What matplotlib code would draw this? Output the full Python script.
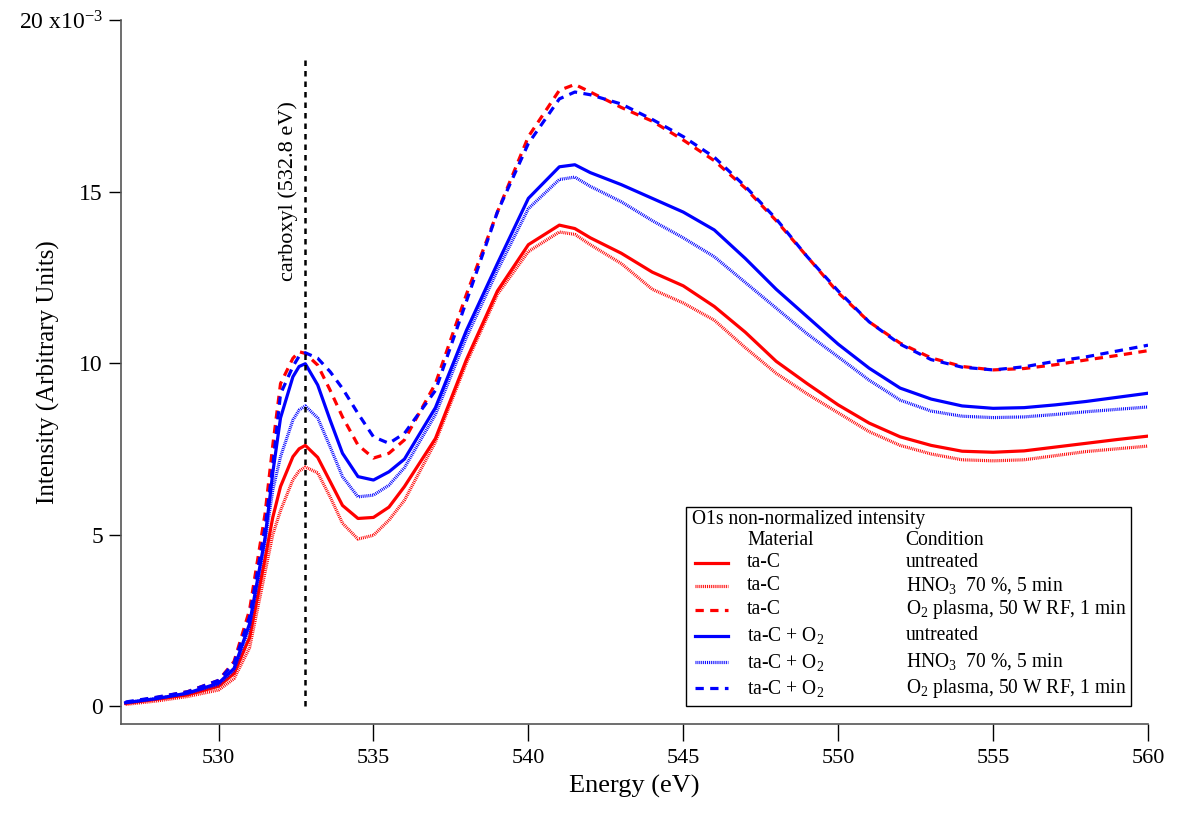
import numpy as np
import matplotlib
matplotlib.use("Agg")
import matplotlib.pyplot as plt
from matplotlib.lines import Line2D
from matplotlib.patches import Rectangle

plt.rcParams["font.family"] = ["Liberation Serif", "DejaVu Serif"]
plt.rcParams["mathtext.fontset"] = "custom"
plt.rcParams["mathtext.rm"] = "Liberation Serif"
plt.rcParams["mathtext.it"] = "Liberation Serif:italic"

# ─── Data (intensity in units of 1e-3) ───
energy = [527, 528, 529, 530, 530.5, 531, 531.5, 531.75, 532, 532.4, 532.6, 532.8, 533.2, 533.6,
          534, 534.5, 535, 535.5, 536, 537, 538, 539, 540, 541, 541.5, 542, 543, 544,
          545, 546, 547, 548, 549, 550, 551, 552, 553, 554, 555, 556, 557, 558, 559, 560]

tac_untreated = [0.08, 0.2, 0.33, 0.58, 0.95, 2.0, 4.3, 5.5, 6.4, 7.27, 7.5, 7.6, 7.25, 6.55,
                 5.85, 5.47, 5.5, 5.8, 6.4, 7.8, 10.1, 12.1, 13.45, 14.02, 13.92, 13.65, 13.2, 12.65,
                 12.25, 11.65, 10.9, 10.05, 9.4, 8.78, 8.25, 7.85, 7.6, 7.43, 7.4, 7.44, 7.55, 7.66, 7.77, 7.87]
tac_hno3 = [0.05, 0.15, 0.28, 0.47, 0.8, 1.7, 3.9, 5.0, 5.7, 6.6, 6.85, 6.97, 6.8, 6.1,
            5.33, 4.87, 4.98, 5.42, 6.0, 7.7, 10.0, 12.0, 13.25, 13.82, 13.75, 13.45, 12.9, 12.15,
            11.75, 11.25, 10.45, 9.7, 9.1, 8.55, 8.0, 7.6, 7.35, 7.18, 7.15, 7.18, 7.3, 7.42, 7.5, 7.58]
tac_plasma = [0.1, 0.25, 0.42, 0.75, 1.3, 2.8, 5.6, 7.6, 9.4, 10.14, 10.33, 10.28, 9.94, 9.21,
              8.43, 7.61, 7.23, 7.37, 7.76, 9.4, 12.0, 14.4, 16.6, 17.95, 18.12, 17.9, 17.45, 17.05,
              16.5, 15.9, 15.1, 14.15, 13.1, 12.05, 11.2, 10.58, 10.15, 9.9, 9.8, 9.84, 9.95, 10.09, 10.22, 10.36]
taco2_untreated = [0.1, 0.22, 0.38, 0.67, 1.1, 2.4, 4.9, 6.8, 8.4, 9.6, 9.9, 9.98, 9.36, 8.34,
                   7.37, 6.69, 6.59, 6.83, 7.2, 8.7, 10.95, 12.9, 14.8, 15.72, 15.78, 15.55, 15.2, 14.8,
                   14.4, 13.88, 13.05, 12.15, 11.35, 10.55, 9.85, 9.27, 8.95, 8.75, 8.68, 8.7, 8.78, 8.88, 9.0, 9.12]
taco2_hno3 = [0.1, 0.22, 0.37, 0.63, 1.05, 2.3, 4.8, 6.3, 7.27, 8.34, 8.63, 8.75, 8.4, 7.56,
              6.69, 6.1, 6.15, 6.44, 6.95, 8.5, 10.75, 12.7, 14.5, 15.35, 15.42, 15.15, 14.7, 14.15,
              13.65, 13.1, 12.35, 11.6, 10.85, 10.18, 9.5, 8.92, 8.6, 8.45, 8.41, 8.43, 8.5, 8.58, 8.65, 8.72]
taco2_plasma = [0.12, 0.26, 0.42, 0.75, 1.25, 2.6, 5.2, 7.0, 9.1, 9.9, 10.2, 10.3, 10.14, 9.75,
                9.26, 8.53, 7.85, 7.66, 7.95, 9.2, 11.8, 14.4, 16.4, 17.7, 17.9, 17.82, 17.55, 17.1,
                16.6, 16.0, 15.15, 14.2, 13.1, 12.1, 11.2, 10.55, 10.1, 9.88, 9.8, 9.89, 10.05, 10.18, 10.35, 10.52]

materials = ["ta-C", "ta-C", "ta-C",
             "ta-C + O$_\\mathregular{2}$", "ta-C + O$_\\mathregular{2}$", "ta-C + O$_\\mathregular{2}$"]
conditions = ["untreated", "HNO$_\\mathregular{3}$  70 %, 5 min", "O$_\\mathregular{2}$ plasma, 50 W RF, 1 min"] * 2

CARBOXYL_EV = 532.8
CARBOXYL_TOP = 18.9
y_ticks = [0, 5, 10, 15, 20]
y_ticklabels = ["0", "5", "10", "15", "20 x10$^{\\mathregular{-3}}$"]
x_ticks = [530, 535, 540, 545, 550, 555, 560]

# ─── Styles ───
RED, BLUE = "#ff0000", "#0000ff"
solid = dict(linestyle="-", linewidth=2.3)
dotted = dict(linestyle=(0, (0.3, 0.3)), linewidth=2.3)
dashed = dict(linestyle=(0, (2.6, 2.0)), linewidth=2.3)

series = [
    (tac_untreated, RED, solid),
    (tac_hno3, RED, dotted),
    (tac_plasma, RED, dashed),
    (taco2_untreated, BLUE, solid),
    (taco2_hno3, BLUE, dotted),
    (taco2_plasma, BLUE, dashed),
]

# ─── Plot ───
fig = plt.figure(figsize=(11.79, 8.15), dpi=100)
ax = fig.add_axes([0.1026, 0.1117, 0.8711, 0.8638])

for vals, col, sty in series:
    ax.plot(energy, vals, color=col, **sty)

ax.vlines(CARBOXYL_EV, 0, CARBOXYL_TOP, colors="black", linestyles=(0, (2.2, 2.0)), linewidth=1.8)
ax.text(532.25, 15.0, "carboxyl (532.8 eV)", rotation=90, ha="center", va="center", fontsize=16)

ax.set_xlim(526.85, 560)
ax.set_ylim(-0.52, 20)
ax.set_xticks(x_ticks)
ax.set_yticks(y_ticks)
ax.set_yticklabels(y_ticklabels)
ax.tick_params(axis="x", direction="out", length=12, width=1, labelsize=16, pad=6)
ax.tick_params(axis="y", direction="out", length=9, width=1, labelsize=17, pad=4)
for s in ["top", "right"]:
    ax.spines[s].set_visible(False)
for s in ["left", "bottom"]:
    ax.spines[s].set_color("#555555")
    ax.spines[s].set_linewidth(1.2)

ax.set_xlabel("Energy (eV)", fontsize=19, labelpad=5)
ax.set_ylabel("Intensity (Arbitrary Units)", fontsize=18)
ax.yaxis.set_label_coords(-0.059, 0.5)

# ─── Legend (drawn by hand: title + two text columns) ───
LEG_FS = 14.1
tr = ax.transAxes
ax.add_patch(Rectangle((0.550, 0.0256), 0.433, 0.283, transform=tr, fill=True,
                       facecolor="white", edgecolor="black", linewidth=1.0, zorder=5))
ax.text(0.556, 0.290, "O1s non-normalized intensity", transform=tr, fontsize=LEG_FS,
        va="center", ha="left", zorder=6)
ax.text(0.6096, 0.260, "Material", transform=tr, fontsize=LEG_FS, va="center", zorder=6)
ax.text(0.764, 0.260, "Condition", transform=tr, fontsize=LEG_FS, va="center", zorder=6)
row_y = [0.2287, 0.196, 0.162, 0.125, 0.088, 0.051]
for (vals, col, sty), mat, cond, yy in zip(series, materials, conditions, row_y):
    ax.add_line(Line2D([0.559, 0.591], [yy, yy], transform=tr, color=col, zorder=6, **sty))
    ax.text(0.6096, yy, mat, transform=tr, fontsize=LEG_FS, va="center", zorder=6)
    ax.text(0.764, yy, cond, transform=tr, fontsize=LEG_FS, va="center", zorder=6)

fig.savefig("out.png", dpi=100)
